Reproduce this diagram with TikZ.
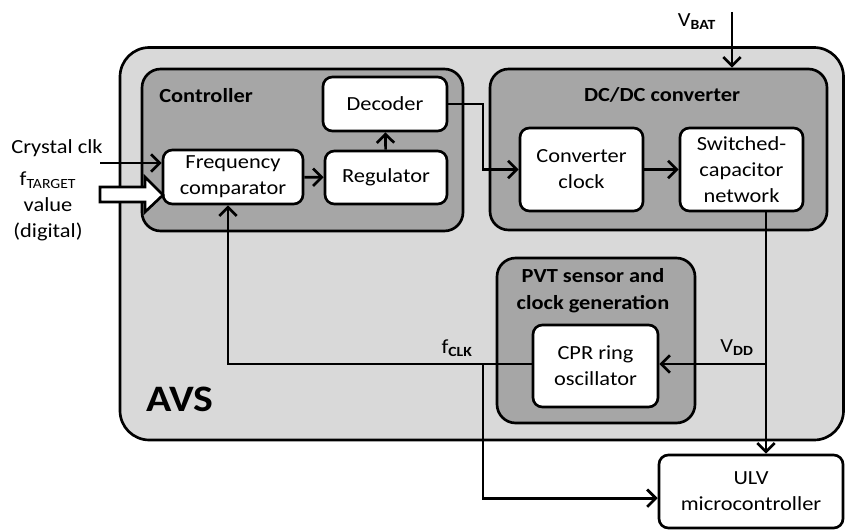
\documentclass[tikz,border=0pt]{standalone}
\usepackage{fontspec}
\setmainfont{Carlito}[FakeStretch=1.12]
\usepackage{tikz}
\usetikzlibrary{positioning}
\usetikzlibrary{arrows.meta}
\usetikzlibrary{calc}
\definecolor{avsgray}{RGB}{217,217,217}
\definecolor{groupgray}{RGB}{166,166,166}
\tikzstyle{block}=[draw,line width=2pt,fill=white,rounded corners=7pt,align=center,inner sep=0pt]
\tikzstyle{group}=[draw,line width=2pt,fill=groupgray,rounded corners=14pt]
\tikzstyle{outer}=[draw,line width=2pt,fill=avsgray,rounded corners=22pt]
\tikzstyle{edge} = [draw,line width=2pt,-{Straight Barb[length=6.5pt,width=13pt]}]
\tikzstyle{title} = [font=\fontsize{15}{20}\selectfont\bfseries,align=center]
\tikzstyle{label} = [font=\fontsize{15}{19.5}\selectfont,align=center]

\begin{document}
\begin{tikzpicture}[x=0.75pt,y=-0.75pt,font=\fontsize{15}{19.5}\selectfont]

	\def\px{0.75pt};
	\useasboundingbox (0,0) rectangle (845,531);

% AVS
	\node[outer,minimum width=723.5*\px,minimum height=392.5*\px] (avs) at (481.75,243.75) {};

% Groups
    \foreach \pos/\name/\w/\h in {{(302.5,150)/ctrl/321/162}, {(658.5,149.5)/dcdc/337/161}, {(596,340.5)/pvt/198/165}}
        \node[group,minimum width=\w*\px,minimum height=\h*\px] (\name) at \pos {};

% Blocks
    \foreach \pos/\name/\w/\h/\txt in {{(385,104)/dec/124/54/Decoder}, {(386,177.5)/reg/122/53/Regulator}, {(233,177)/freq/140/54/Frequency\\comparator}, {(581.5,169.5)/conv/123/83/Converter\\clock}, {(741.5,169.5)/swc/123/83/Switched-\\capacitor\\network}, {(595.5,366)/cpr/125/82/CPR ring\\oscillator}, {(751,491.5)/ulv/184/73/ULV\\microcontroller}}
        \node[block,minimum width=\w*\px,minimum height=\h*\px] (\name) at \pos {\txt};

% Titles
   \node[title] (ctrltitle) at (206,96) {Controller};
   \node[title] (dcdctitle) at (662,95) {DC/DC converter};
   \node[title] (pvttitle) at (593,291) {PVT sensor and\\clock generation};
   \node[font=\fontsize{28}{30}\selectfont\bfseries] (avstitle) at (180,399) {AVS};

% Points
	\coordinate (vdd) at (766,364);
	\coordinate (fb) at (228,364);
	\coordinate (br) at (483,364);
	\coordinate (jog) at (483,104);
	\coordinate (vbat) at (732,12);
	\coordinate (xtal) at (100,163);
	\coordinate (tgt) at (163,195);

% Edges
    \foreach \source/\dest in {freq/reg, reg/dec, conv/swc}
            \path[edge] (\source) -- (\dest);

	\path[edge] (dec.east) -- (jog) |- (conv.west);
	\path[edge] (vbat) -- (vbat |- dcdc.north);
	\path[edge] (xtal) -- (xtal -| freq.west);
	\path[edge] (swc.south -| vdd) -- (vdd |- ulv.north);
	\path[edge] (vdd) -- (vdd -| cpr.east);
	\path[edge] (cpr.west |- fb) -- (fb) -- (fb |- freq.south);
	\path[edge] (br) |- ([yshift=-5pt]ulv.west);

	%target value
	\draw[line width=2pt,fill=white,shift={(tgt)}] (0,0) -- (-18,-18) -- (-18,-8) -- (-63,-8) -- (-63,7) -- (-18,7) -- (-18,17) -- cycle;

% Labels
   \node[label] (xtallabel) at (57,148) {Crystal clk};
   \node[label] (tgtlabel) at (48,206) {f\textsubscript{TARGET}\\value\\(digital)};
   \node[label] (vbatlabel) at (697,22) {V\textsubscript{\textbf{BAT}}};
   \node[label] (fclklabel) at (457,348) {f\textsubscript{\textbf{CLK}}};
   \node[label] (vddlabel) at (737,348) {V\textsubscript{\textbf{DD}}};

\end{tikzpicture}
\end{document}
